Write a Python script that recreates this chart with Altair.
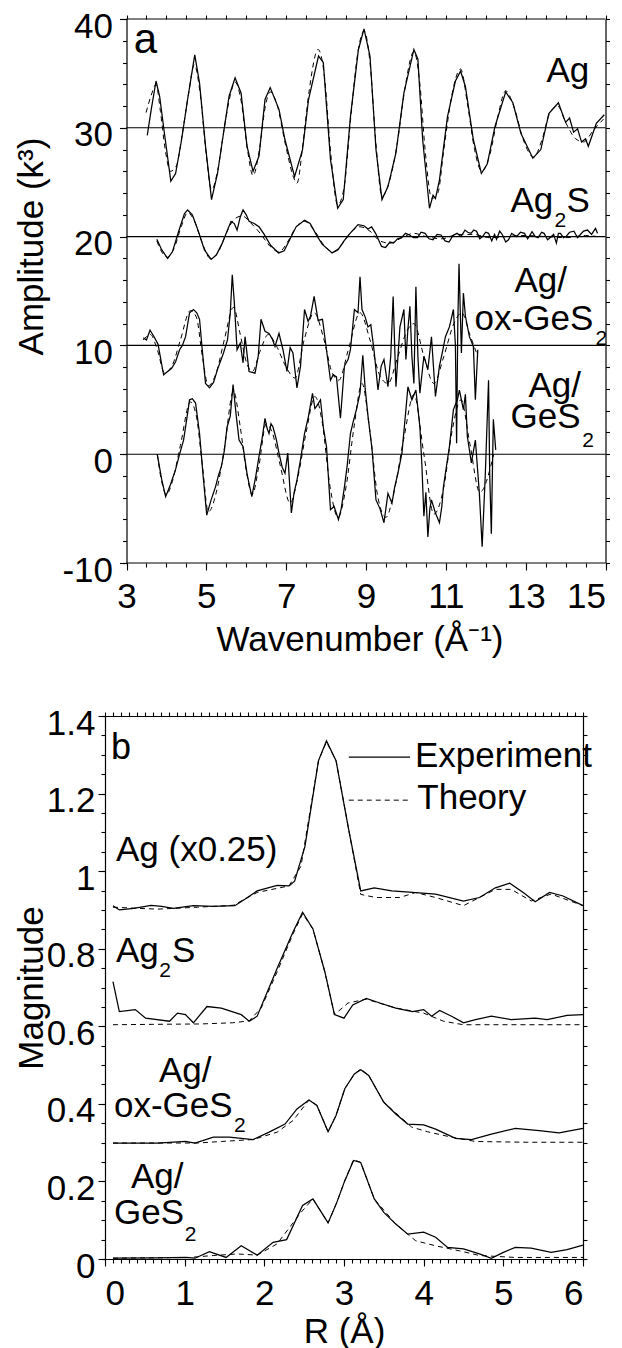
import altair as alt
import pandas as pd

FONT = "Liberation Sans"

# ---------------- Panel a : k^3-weighted EXAFS (offset curves) ----------------
AG_EXP = [(3.52,29.3),(3.62,31.7),(3.74,34.3),(3.83,32.9),(3.95,29.5),(4.11,25.1),(4.23,25.8),(4.38,28.9),
          (4.53,32.6),(4.71,36.7),(4.83,34.1),(4.98,28.3),(5.13,23.4),(5.28,25.8),(5.43,29.5),(5.57,32.9),
          (5.72,34.6),(5.87,33.2),(6.02,28.3),(6.17,26.0),(6.32,27.4),(6.47,32.6),(6.60,33.7),(6.82,31.7),
          (6.97,28.9),(7.21,25.5),(7.41,28.0),(7.56,32.6),(7.81,36.6),(7.93,36.0),(8.11,27.1),(8.29,22.6),
          (8.43,23.4),(8.61,31.0),(8.81,37.2),(8.95,39.1),(9.10,36.6),(9.25,28.0),(9.40,23.4),(9.55,24.6),
          (9.75,27.7),(9.95,33.2),(10.20,37.2),(10.30,36.3),(10.42,28.9),(10.59,22.6),(10.68,23.8),(10.74,23.5),
          (10.84,25.2),(11.04,31.0),(11.24,34.3),(11.37,35.2),(11.49,33.8),(11.69,28.9),(11.89,25.8),(12.04,26.7),
          (12.23,30.1),(12.50,33.3),(12.68,32.3),(12.88,29.5),(13.18,27.2),(13.38,28.0),(13.58,31.3),(13.82,32.3),
          (13.90,31.5),(14.00,30.5),(14.10,30.9),(14.20,29.6),(14.30,29.9),(14.40,28.7),(14.50,29.0),(14.57,28.3),
          (14.77,30.4),(14.97,31.2)]
AG_TH = [(3.49,31.4),(3.62,33.0),(3.74,34.0),(3.85,31.5),(3.97,28.0),(4.10,26.0),(4.25,26.5),(4.40,29.5),
         (4.55,33.0),(4.70,35.8),(4.85,33.0),(5.00,27.5),(5.13,24.3),(5.28,26.0),(5.45,30.0),(5.60,33.0),
         (5.72,34.2),(5.87,32.5),(6.03,28.0),(6.17,25.6),(6.33,28.0),(6.47,31.8),(6.60,33.3),(6.78,32.0),
         (6.98,28.5),(7.20,25.3),(7.27,24.9),(7.42,28.5),(7.58,33.5),(7.80,37.2),(7.95,35.0),(8.12,27.5),
         (8.29,22.9),(8.45,24.5),(8.62,31.0),(8.80,37.0),(8.95,38.9),(9.10,36.0),(9.25,28.5),(9.40,23.7),
         (9.58,25.0),(9.78,28.5),(9.97,33.5),(10.20,37.0),(10.35,34.0),(10.48,28.0),(10.65,23.5),(10.80,24.0),
         (10.95,28.0),(11.15,33.0),(11.37,35.4),(11.55,32.0),(11.72,28.0),(11.90,26.0),(12.10,27.5),(12.30,31.0),
         (12.50,33.4),(12.70,32.0),(12.95,28.8),(13.20,27.3),(13.40,28.8),(13.60,31.3),(13.80,32.0),(14.00,30.5),
         (14.25,29.0),(14.45,28.7),(14.70,29.8),(14.95,30.8)]
AG2S_EXP = [(3.76,19.75),(3.88,18.8),(4.03,18.0),(4.15,18.6),(4.30,20.4),(4.45,22.1),(4.53,22.45),(4.65,22.0),
            (4.80,20.5),(4.95,18.8),(5.12,17.9),(5.25,18.3),(5.40,19.4),(5.55,20.8),(5.62,21.4),(5.70,21.2),
            (5.77,20.6),(5.85,21.8),(5.92,22.45),(6.00,22.0),(6.07,21.4),(6.20,21.2),(6.32,20.9),(6.45,20.2),
            (6.61,19.2),(6.81,18.5),(6.95,18.7),(7.10,19.8),(7.25,20.9),(7.46,21.5),(7.60,21.2),(7.75,20.2),
            (7.90,19.3),(8.15,18.5),(8.30,18.8),(8.45,19.6),(8.60,20.3),(8.80,21.1),(8.95,21.0),(9.05,20.7),
            (9.14,20.9),(9.24,20.3),(9.39,19.1),(9.49,19.0),(9.60,19.5),(9.69,19.4),(9.79,19.8),(9.89,19.9),
            (9.99,20.3),(10.09,20.15),(10.19,19.9),(10.29,19.9),(10.38,20.4),(10.48,20.3),(10.58,19.8),(10.68,19.7),
            (10.78,20.2),(10.88,20.15),(10.98,19.6),(11.08,19.5),(11.18,20.1),(11.28,20.3),(11.38,20.0),(11.48,20.6),
            (11.55,20.4),(11.63,20.3),(11.70,20.6),(11.77,20.5),(11.85,19.8),(11.92,20.0),(12.00,20.4),(12.07,20.3),
            (12.15,19.6),(12.22,20.2),(12.27,19.75),(12.35,20.5),(12.42,20.15),(12.50,19.5),(12.57,19.7),(12.65,20.3),
            (12.77,20.0),(12.87,20.4),(12.97,20.3),(13.05,19.8),(13.16,20.45),(13.24,20.0),(13.31,19.9),(13.40,20.4),
            (13.46,20.3),(13.55,19.7),(13.61,19.9),(13.70,20.2),(13.77,19.4),(13.82,20.3),(13.87,20.3),(13.95,19.9),
            (14.01,20.0),(14.10,20.4),(14.21,20.5),(14.30,19.9),(14.36,20.15),(14.45,20.5),(14.55,20.6),(14.65,20.2),
            (14.75,20.75),(14.80,20.3)]
AG2S_TH = [(3.76,19.6),(3.88,18.6),(4.03,18.1),(4.20,19.0),(4.38,21.0),(4.53,22.2),(4.68,21.6),(4.88,19.6),
           (5.10,18.0),(5.30,18.6),(5.50,20.3),(5.70,21.6),(5.90,21.9),(6.10,21.3),(6.35,20.3),(6.60,19.1),
           (6.82,18.6),(7.05,19.6),(7.25,20.9),(7.46,21.4),(7.70,20.6),(7.95,19.2),(8.17,18.6),(8.40,19.3),
           (8.62,20.4),(8.85,20.9),(9.10,20.5),(9.35,19.6),(9.60,19.4),(9.90,19.9),(10.20,20.3),(10.50,20.0),
           (10.90,19.8),(11.30,20.2),(11.70,20.2),(12.10,19.9),(12.50,20.0),(13.00,20.1),(13.50,20.0),(14.00,19.9),
           (14.50,20.1),(14.80,20.0)]
OX_EXP = [(3.42,10.7),(3.50,10.5),(3.59,11.4),(3.69,10.8),(3.79,10.1),(3.93,7.3),(4.03,7.6),(4.13,7.9),
          (4.23,8.5),(4.33,9.6),(4.40,10.0),(4.48,10.8),(4.58,13.0),(4.68,13.3),(4.76,13.0),(4.83,12.4),
          (4.90,9.5),(4.98,6.5),(5.08,6.1),(5.18,6.6),(5.28,7.8),(5.43,9.3),(5.53,10.5),(5.60,13.0),
          (5.65,16.5),(5.70,14.0),(5.77,9.6),(5.85,10.2),(5.92,8.4),(5.97,10.8),(6.07,7.6),(6.22,7.45),
          (6.30,9.0),(6.37,12.4),(6.47,11.3),(6.57,11.1),(6.65,10.6),(6.72,9.9),(6.82,11.1),(6.92,9.6),
          (7.02,7.6),(7.10,9.8),(7.17,9.3),(7.27,6.1),(7.36,8.1),(7.46,13.3),(7.55,12.2),(7.61,12.7),
          (7.70,14.5),(7.80,12.3),(7.91,12.4),(8.01,9.6),(8.11,6.8),(8.18,7.3),(8.26,7.1),(8.36,3.3),
          (8.46,8.1),(8.55,8.7),(8.61,9.6),(8.71,13.3),(8.80,13.0),(8.85,16.3),(8.90,13.3),(8.98,12.6),
          (9.05,11.7),(9.12,11.9),(9.20,9.6),(9.30,5.9),(9.38,8.1),(9.45,8.7),(9.55,6.2),(9.62,9.0),
          (9.68,14.5),(9.75,6.2),(9.85,11.7),(9.95,13.3),(10.00,8.7),(10.05,11.5),(10.10,13.6),(10.15,9.0),
          (10.20,6.5),(10.25,15.4),(10.30,9.0),(10.35,5.6),(10.45,9.0),(10.55,7.8),(10.64,10.8),(10.74,5.3),
          (10.84,8.1),(10.92,9.5),(10.99,10.8),(11.09,11.7),(11.19,13.3),(11.24,10.0),(11.27,1.0),(11.30,12.0),
          (11.33,17.5),(11.39,9.3),(11.44,14.8),(11.49,12.7),(11.59,10.8),(11.69,9.9),(11.74,5.0),(11.80,9.6)]
OX_TH = [(3.42,10.5),(3.60,11.0),(3.78,9.5),(3.95,7.5),(4.15,8.2),(4.35,10.5),(4.60,13.2),(4.75,12.6),
         (4.90,9.0),(5.05,6.3),(5.25,7.5),(5.45,10.5),(5.68,13.5),(5.85,11.0),(6.00,8.5),(6.15,7.6),
         (6.35,9.5),(6.55,11.0),(6.75,10.0),(7.00,8.0),(7.22,7.0),(7.45,10.5),(7.70,13.0),(7.95,10.5),
         (8.15,7.5),(8.32,6.8),(8.55,9.5),(8.85,13.0),(9.10,10.5),(9.35,7.2),(9.55,6.5),(9.80,9.0),
         (10.05,11.5),(10.20,12.0),(10.45,9.0),(10.70,6.5),(10.95,9.0),(11.20,12.0),(11.40,13.0),(11.60,11.0),
         (11.80,9.0)]
GE_EXP = [(3.77,0.0),(3.88,-2.3),(3.98,-3.9),(4.10,-2.8),(4.23,-1.4),(4.33,0.0),(4.43,1.3),(4.52,3.5),
          (4.58,5.0),(4.65,5.1),(4.73,4.7),(4.83,1.9),(4.92,-2.0),(5.01,-5.6),(5.12,-4.2),(5.23,-3.0),
          (5.30,-2.0),(5.38,-1.1),(5.45,0.3),(5.52,2.5),(5.60,3.5),(5.67,6.4),(5.75,3.5),(5.82,1.3),
          (5.92,0.7),(6.02,-1.8),(6.14,-3.9),(6.24,-2.0),(6.32,-0.2),(6.40,1.5),(6.47,3.3),(6.52,2.4),
          (6.57,1.9),(6.62,2.8),(6.67,2.5),(6.75,1.4),(6.82,0.1),(6.90,-1.2),(6.97,-1.75),(7.04,0.1),
          (7.13,-5.4),(7.20,-3.5),(7.27,-2.4),(7.36,-0.5),(7.46,1.9),(7.56,3.5),(7.66,5.6),(7.72,4.2),
          (7.76,4.4),(7.86,5.0),(7.93,2.5),(8.01,0.7),(8.11,-5.1),(8.20,-4.8),(8.31,-6.0),(8.38,-5.0),
          (8.46,-3.0),(8.53,-1.0),(8.61,1.9),(8.68,3.0),(8.76,4.1),(8.85,5.6),(8.92,9.1),(8.98,6.0),
          (9.05,3.5),(9.15,0.5),(9.25,-4.2),(9.35,-5.0),(9.45,-6.3),(9.55,-3.6),(9.65,-4.5),(9.72,-3.0),
          (9.80,-1.75),(9.90,0.1),(10.00,4.1),(10.05,6.2),(10.15,5.0),(10.25,5.9),(10.30,4.2),(10.35,2.5),
          (10.40,-1.0),(10.45,-5.7),(10.50,-3.5),(10.55,-7.6),(10.60,-5.0),(10.64,-4.2),(10.74,-5.4),(10.84,-6.3),
          (10.90,-4.8),(10.94,-3.0),(11.02,-1.0),(11.09,0.7),(11.19,4.1),(11.29,5.0),(11.34,5.9),(11.44,4.1),
          (11.49,5.5),(11.54,1.6),(11.64,-0.8),(11.74,1.3),(11.84,-3.6),(11.91,-8.5),(11.99,-1.75),(12.07,6.8),
          (12.10,-2.0),(12.14,-7.3),(12.19,3.2),(12.25,0.4)]
GE_TH = [(3.77,0.0),(3.88,-2.5),(4.00,-3.7),(4.15,-2.5),(4.35,0.8),(4.60,4.8),(4.75,3.5),(4.90,-1.0),
         (5.05,-5.3),(5.25,-3.5),(5.45,0.5),(5.68,5.8),(5.85,2.5),(6.00,-1.5),(6.15,-3.7),(6.32,-1.0),
         (6.50,2.8),(6.65,2.0),(6.85,-1.0),(7.10,-4.5),(7.30,-2.0),(7.50,2.0),(7.72,5.3),(7.90,3.0),
         (8.10,-3.0),(8.30,-5.8),(8.50,-3.0),(8.70,2.5),(8.90,6.5),(9.10,2.0),(9.30,-4.0),(9.50,-5.8),
         (9.70,-3.5),(9.95,1.5),(10.20,5.5),(10.45,0.0),(10.70,-5.5),(10.95,-3.0),(11.15,2.0),(11.38,5.0),
         (11.60,1.0),(11.85,-3.5),(12.20,0.0)]
A_BASELINES = [30, 20, 10, 0]
A_X_RANGE = [3, 15]
A_Y_RANGE = [-10, 40]

A_X_MAJOR = [3, 5, 7, 9, 11, 13, 15]
A_X_MINOR = [3 + 0.5 * i for i in range(25)]
A_Y_MAJOR = [-10, 0, 10, 20, 30, 40]
A_Y_MINOR = [-10 + 2 * i for i in range(26)]

# text labels panel a: (x, y-baseline, text, size)
A_TEXT = [(3.18, 36.9, "a", 42),
          (13.52, 34.2, "Ag", 35),
          (12.62, 22.27, "Ag", 35), (13.72, 20.9, "2", 21), (14.02, 22.27, "S", 35),
          (12.72, 14.9, "Ag/", 35), (11.72, 11.4, "ox-GeS", 35), (14.75, 10.0, "2", 21),
          (13.07, 5.25, "Ag/", 35), (12.62, 2.4, "GeS", 35), (14.42, 0.65, "2", 21)]

# ---------------- Panel b : Fourier transform magnitudes ----------------
AG_B_EXP = [(0.10,0.911),(0.18,0.900),(0.36,0.904),(0.58,0.912),(0.71,0.909),(0.86,0.904),(1.11,0.911),
            (1.36,0.909),(1.63,0.911),(1.76,0.928),(1.91,0.949),(2.16,0.963),(2.31,0.962),(2.38,0.974),
            (2.51,1.064),(2.68,1.285),(2.78,1.336),(2.90,1.285),(3.06,1.106),(3.21,0.949),(3.38,0.957),
            (3.60,0.949),(3.86,0.945),(4.15,0.941),(4.50,0.923),(4.70,0.932),(4.90,0.957),(5.08,0.969),
            (5.25,0.945),(5.40,0.921),(5.58,0.945),(5.75,0.936),(6.00,0.911)]
AG_B_TH = [(0.10,0.907),(0.66,0.902),(1.16,0.907),(1.61,0.912),(1.91,0.945),(2.31,0.962),(2.46,1.013),
           (2.68,1.285),(2.78,1.333),(2.90,1.285),(3.06,1.106),(3.21,0.940),(3.40,0.932),(3.70,0.932),
           (3.90,0.945),(4.15,0.932),(4.50,0.911),(4.90,0.953),(5.10,0.953),(5.35,0.923),(5.60,0.941),(6.00,0.911)]
AG2S_B_EXP = [(0.10,0.715),(0.18,0.638),(0.38,0.643),(0.51,0.621),(0.81,0.613),(0.91,0.634),(1.01,0.630),
              (1.11,0.609),(1.28,0.651),(1.46,0.647),(1.71,0.630),(1.81,0.613),(1.91,0.626),(2.16,0.749),
              (2.36,0.843),(2.48,0.894),(2.61,0.851),(2.76,0.740),(2.88,0.630),(3.00,0.621),(3.11,0.655),
              (3.28,0.672),(3.45,0.660),(3.65,0.647),(3.86,0.638),(4.00,0.643),(4.10,0.626),(4.20,0.641),
              (4.35,0.626),(4.50,0.609),(4.65,0.617),(4.85,0.626),(5.10,0.617),(5.40,0.621),(5.55,0.617),
              (5.80,0.628),(6.00,0.630)]
AG2S_B_TH = [(0.10,0.604),(0.60,0.605),(1.20,0.606),(1.60,0.609),(1.81,0.614),(1.96,0.647),(2.16,0.740),
             (2.36,0.838),(2.48,0.890),(2.61,0.851),(2.76,0.740),(2.88,0.630),(3.05,0.660),(3.28,0.670),
             (3.65,0.647),(4.00,0.634),(4.25,0.613),(4.50,0.604),(6.00,0.604)]
OX_B_EXP = [(0.10,0.299),(0.66,0.299),(1.01,0.303),(1.13,0.299),(1.36,0.314),(1.56,0.314),(1.86,0.308),
            (2.06,0.327),(2.26,0.348),(2.41,0.387),(2.56,0.410),(2.66,0.396),(2.80,0.328),(2.90,0.370),
            (3.01,0.439),(3.13,0.477),(3.21,0.488),(3.31,0.473),(3.50,0.404),(3.65,0.374),(3.80,0.348),
            (4.00,0.346),(4.15,0.335),(4.40,0.311),(4.60,0.308),(4.85,0.322),(5.15,0.337),(5.45,0.331),
            (5.70,0.325),(6.00,0.337)]
OX_B_TH = [(0.10,0.299),(1.16,0.299),(1.46,0.303),(1.86,0.308),(2.16,0.327),(2.36,0.357),(2.56,0.410),
           (2.66,0.396),(2.80,0.328),(2.90,0.370),(3.01,0.439),(3.13,0.477),(3.21,0.490),(3.31,0.473),
           (3.50,0.404),(3.85,0.340),(4.05,0.328),(4.35,0.314),(4.65,0.303),(5.30,0.301),(6.00,0.301)]
GE_B_EXP = [(0.10,0.002),(0.66,0.003),(1.01,0.004),(1.13,0.002),(1.31,0.019),(1.52,0.004),(1.71,0.034),
            (1.91,0.010),(2.11,0.043),(2.28,0.050),(2.48,0.138),(2.61,0.155),(2.80,0.093),(2.91,0.146),
            (3.01,0.202),(3.12,0.254),(3.21,0.249),(3.38,0.155),(3.50,0.120),(3.65,0.090),(3.80,0.064),
            (4.00,0.069),(4.15,0.056),(4.30,0.030),(4.50,0.026),(4.70,0.013),(4.85,0.002),(5.00,0.017),
            (5.15,0.030),(5.35,0.028),(5.60,0.017),(5.80,0.024),(6.00,0.036)]
GE_B_TH = [(0.10,0.002),(1.06,0.004),(1.36,0.009),(1.66,0.013),(1.91,0.010),(2.16,0.039),(2.46,0.120),
           (2.61,0.155),(2.80,0.093),(2.91,0.146),(3.01,0.202),(3.12,0.256),(3.21,0.249),(3.38,0.155),
           (3.65,0.090),(3.80,0.064),(3.90,0.047),(4.15,0.034),(4.45,0.021),(4.70,0.009),(5.15,0.004),(6.00,0.004)]

B_X_MAJOR = [0, 1, 2, 3, 4, 5, 6]
B_X_MINOR = [round(0.1 * i, 1) for i in range(61)]
B_Y_MAJOR = [0, 0.2, 0.4, 0.6, 0.8, 1, 1.2, 1.4]
B_Y_MINOR = [round(0.05 * i, 2) for i in range(29)]

# legend sample lines: (x0, x1, y, kind)
B_LEGEND = [(3.06, 3.83, 1.294, "exp"), (3.06, 3.83, 1.183, "th")]
B_TEXT = [(0.075, 1.289, "b", 36),
          (3.89, 1.268, "Experiment", 35), (3.92, 1.160, "Theory", 35),
          (0.138, 1.025, "Ag (x0.25)", 35),
          (0.138, 0.767, "Ag", 35), (0.68, 0.728, "2", 21), (0.84, 0.767, "S", 35),
          (0.678, 0.457, "Ag/", 35), (0.113, 0.367, "ox-GeS", 35), (1.62, 0.328, "2", 21),
          (0.326, 0.183, "Ag/", 35), (0.113, 0.090, "GeS", 35), (1.00, 0.046, "2", 21)]

# ---------------- layout (pixels) ----------------
A_W, A_H = 479, 544          # panel a plot box
B_W, B_H = 478, 543          # panel b plot box
A_SHIFT = 21.5               # panel a plot box sits this far right of panel b's


def long_df(series, xname, yname):
    rows = []
    for name, pts in series.items():
        for i, (x, y) in enumerate(pts):
            rows.append({"s": name, "i": i, xname: x, yname: y})
    return pd.DataFrame(rows)


LABEL_EXPR = "'' + datum.value"
LAB = dict(labels=True, labelFontSize=35, labelFont=FONT, labelColor="black",
           labelExpr=LABEL_EXPR, titleFont=FONT, titleFontSize=35, titleFontWeight="normal",
           titleColor="black")


def axis(orient, values, size, **kw):
    d = dict(orient=orient, values=values, tickSize=size, labels=False, grid=False,
             domain=True, domainColor="black", tickColor="black", domainWidth=1.2,
             tickWidth=1.1, title=None)
    d.update(kw)
    return alt.Axis(**d)


def panel(exp_df, th_df, xs, ys, xname, yname, xmaj, xmin, ymaj, ymin, xtitle, ytitle,
          texts, w, h, th_interp, ykw, xkw, extra_layers, left_off=0, hdomain=True):
    exp = alt.Chart(exp_df).mark_line(color="black", strokeWidth=1.25).encode(
        x=alt.X(f"{xname}:Q", scale=xs,
                axis=axis("bottom", xmaj, 7, title=xtitle, domain=hdomain, **LAB, **xkw)),
        y=alt.Y(f"{yname}:Q", scale=ys,
                axis=axis("left", ymaj, 7, labelOffset=7, title=ytitle, offset=left_off,
                          **LAB, **ykw)),
        detail="s:N", order="i:Q")
    th = alt.Chart(th_df).mark_line(color="black", strokeWidth=1.0, strokeDash=[5, 4],
                                    interpolate=th_interp).encode(
        x=alt.X(f"{xname}:Q", scale=xs, axis=axis("bottom", xmin, 4, domain=False)),
        y=alt.Y(f"{yname}:Q", scale=ys, axis=axis("left", ymin, 4, domain=False, offset=left_off)),
        detail="s:N", order="i:Q")
    frame = alt.Chart(exp_df).mark_point(opacity=0).encode(
        x=alt.X(f"{xname}:Q", scale=xs, axis=axis("top", xmin, 4, domain=hdomain)),
        y=alt.Y(f"{yname}:Q", scale=ys, axis=axis("right", ymin, 4)))
    tdf = pd.DataFrame(texts, columns=["tx", "ty", "t", "fs"])
    txt = alt.Chart(tdf).mark_text(align="left", baseline="alphabetic", font=FONT,
                                   color="black").encode(
        x=alt.X("tx:Q", scale=xs, axis=None),
        y=alt.Y("ty:Q", scale=ys, axis=None),
        text="t:N", size=alt.Size("fs:Q", scale=None, legend=None))
    layers = [exp, th] + extra_layers + [frame, txt]
    return alt.layer(*layers).resolve_axis(x="independent", y="independent").properties(
        width=w, height=h)


# ---- panel a (its scale reaches a little left of k=3 so that both panels share an origin)
px_per_k = A_W / (A_X_RANGE[1] - A_X_RANGE[0])
XA = alt.Scale(domain=[A_X_RANGE[0] - A_SHIFT / px_per_k, A_X_RANGE[1]], nice=False, zero=False)
YA = alt.Scale(domain=A_Y_RANGE, nice=False, zero=False)
a_exp = long_df({"Ag": AG_EXP, "Ag2S": AG2S_EXP, "ox": OX_EXP, "ge": GE_EXP}, "k", "amp")
a_th = long_df({"Ag": AG_TH, "Ag2S": AG2S_TH, "ox": OX_TH, "ge": GE_TH}, "k", "amp")
hl = pd.DataFrame({"amp": A_BASELINES + A_Y_RANGE, "k0": A_X_RANGE[0], "k1": A_X_RANGE[1],
                   "w": [1.1] * len(A_BASELINES) + [1.2, 1.2]})
rules_a = alt.Chart(hl).mark_rule(color="black").encode(
    x=alt.X("k0:Q", scale=XA, axis=None), x2="k1:Q",
    y=alt.Y("amp:Q", scale=YA, axis=None),
    strokeWidth=alt.StrokeWidth("w:Q", scale=None, legend=None))
panel_a = panel(a_exp, a_th, XA, YA, "k", "amp", A_X_MAJOR, A_X_MINOR, A_Y_MAJOR, A_Y_MINOR,
                "Wavenumber (Å⁻¹)", "Amplitude (k³)", A_TEXT, A_W + A_SHIFT, A_H, "monotone",
                dict(labelPadding=7, titleX=-77, titleY=227, titleAngle=-90, titleBaseline="bottom"),
                dict(labelPadding=9, titleY=59, titleX=233 + A_SHIFT, titleBaseline="top"),
                [rules_a], left_off=-A_SHIFT, hdomain=False)

# ---- panel b
XB = alt.Scale(domain=[0, 6], nice=False, zero=False)
YB = alt.Scale(domain=[0, 1.4], nice=False, zero=False)
b_exp = long_df({"Ag": AG_B_EXP, "Ag2S": AG2S_B_EXP, "ox": OX_B_EXP, "ge": GE_B_EXP}, "r", "mag")
b_th = long_df({"Ag": AG_B_TH, "Ag2S": AG2S_B_TH, "ox": OX_B_TH, "ge": GE_B_TH}, "r", "mag")
leg_df = pd.DataFrame(B_LEGEND, columns=["lx0", "lx1", "ly", "kind"])
leg_exp = alt.Chart(leg_df[leg_df.kind == "exp"]).mark_rule(color="black", strokeWidth=1.25).encode(
    x=alt.X("lx0:Q", scale=XB, axis=None), x2="lx1:Q", y=alt.Y("ly:Q", scale=YB, axis=None))
leg_th = alt.Chart(leg_df[leg_df.kind == "th"]).mark_rule(color="black", strokeWidth=1.0,
                                                          strokeDash=[5, 4]).encode(
    x=alt.X("lx0:Q", scale=XB, axis=None), x2="lx1:Q", y=alt.Y("ly:Q", scale=YB, axis=None))
panel_b = panel(b_exp, b_th, XB, YB, "r", "mag", B_X_MAJOR, B_X_MINOR, B_Y_MAJOR, B_Y_MINOR,
                "R (Å)", "Magnitude", B_TEXT, B_W, B_H, "linear",
                dict(labelPadding=3, titleX=-56, titleAngle=-90, titleBaseline="bottom"),
                dict(labelPadding=10, titleY=55, titleBaseline="top"),
                [leg_exp, leg_th])

chart = alt.vconcat(panel_a, panel_b, spacing=49).properties(
    padding={"left": 14, "top": 9, "right": 0, "bottom": 0},
    background="white",
).configure_view(stroke=None)

chart.save("out.html", embed_options={"renderer": "svg", "actions": False})
